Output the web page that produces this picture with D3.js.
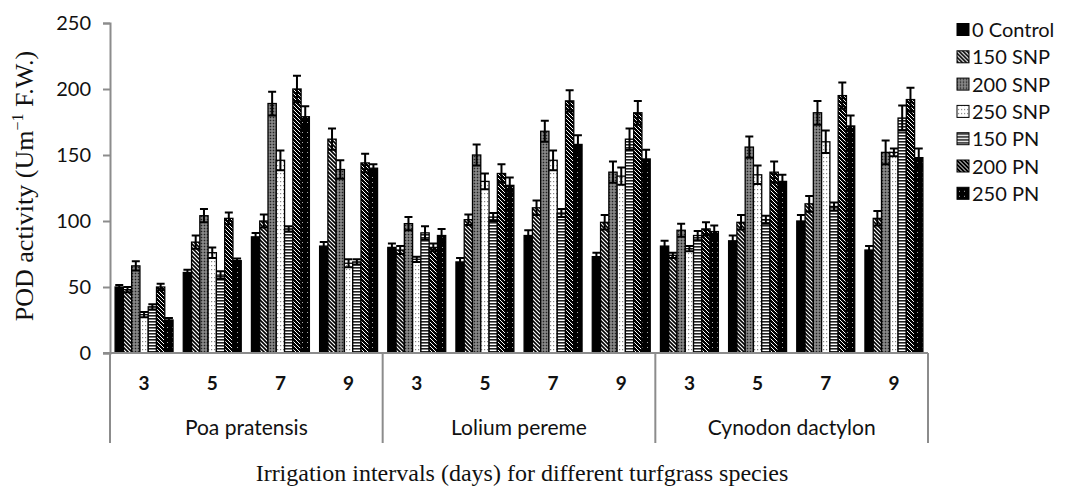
<!DOCTYPE html>
<html><head><meta charset="utf-8">
<script src="https://cdn.jsdelivr.net/npm/d3@7"></script>
<style>
html,body{margin:0;padding:0;background:#fff;}
svg{display:block;}
</style></head>
<body>
<svg id="chart" width="1065" height="487"></svg>
<script>
const species = ["Poa pratensis", "Lolium pereme", "Cynodon dactylon"];
const intervals = ["3", "5", "7", "9"];
const seriesNames = ["0 Control", "150 SNP", "200 SNP", "250 SNP", "150 PN", "200 PN", "250 PN"];
const yTicks = [0, 50, 100, 150, 200, 250];

// values per series, ordered: Poa 3,5,7,9 | Lolium 3,5,7,9 | Cynodon 3,5,7,9
const control = [50, 61, 88, 81,   80, 69, 89, 73,   81, 85, 100, 78];
const snp150  = [48, 84, 100, 162, 78, 101, 110, 99, 74, 99, 113, 102];
const snp200  = [66, 104, 189, 139, 98, 150, 168, 137, 93, 156, 182, 152];
const snp250  = [29, 76, 146, 68,  71, 130, 146, 134, 79, 135, 160, 152];
const pn150   = [35, 59, 94, 69,   91, 103, 106, 162, 89, 101, 111, 178];
const pn200   = [50, 102, 200, 144, 80, 136, 191, 182, 94, 137, 195, 192];
const pn250   = [25, 70, 179, 140,  89, 127, 158, 147, 92, 130, 172, 148];

const errControl = [1.5, 2, 3, 3,   3, 3, 4, 3,   4, 4, 4.5, 3];
const errSnp150  = [2, 5, 5, 8,     3, 4, 5.5, 5.5, 2, 5.5, 6, 5.5];
const errSnp200  = [3.5, 5, 9, 7,   5, 8, 8, 8,   5, 8, 9, 9];
const errSnp250  = [2, 4, 7.5, 3,   2, 6, 7.5, 6.5, 2, 7, 8.5, 3];
const errPn150   = [2, 3, 2, 2,     5, 3, 3, 8,   3.5, 3, 3, 9.5];
const errPn200   = [2.5, 4.5, 10, 7, 3, 7, 8, 9,  5, 8, 10, 9];
const errPn250   = [1.5, 1.5, 8, 3,  5, 6, 7, 7,  4.5, 5, 8, 7];

const values = [control, snp150, snp200, snp250, pn150, pn200, pn250];
const errors = [errControl, errSnp150, errSnp200, errSnp250, errPn150, errPn200, errPn250];
const patternIds = ["pControl", "p150SNP", "p200SNP", "p250SNP", "p150PN", "p200PN", "p250PN"];

const svg = d3.select("#chart");
const defs = svg.append("defs");

function pat(id, w, h, bg, draw) {
  const p = defs.append("pattern").attr("id", id).attr("patternUnits", "userSpaceOnUse")
    .attr("width", w).attr("height", h);
  p.append("rect").attr("width", w).attr("height", h).attr("fill", bg);
  draw(p);
}
const diag = "M-1,-1 L5,5 M-1,3 L1,5 M3,-1 L5,1";
pat("pControl", 4, 4, "#000", p => {});
pat("p150SNP", 4, 4, "#fff", p => {
  p.append("path").attr("d", diag).attr("stroke", "#000").attr("stroke-width", 1.6);
});
pat("p200SNP", 3, 3, "#6e6e6e", p => {
  p.append("rect").attr("x", 0).attr("y", 0).attr("width", 1).attr("height", 1).attr("fill", "#222");
  p.append("rect").attr("x", 1.5).attr("y", 1.5).attr("width", 1).attr("height", 1).attr("fill", "#ccc");
});
pat("p250SNP", 3, 4, "#fff", p => {
  p.append("rect").attr("x", 1).attr("y", 1).attr("width", 1.2).attr("height", 1.2).attr("fill", "#888");
});
pat("p150PN", 3, 3, "#fff", p => {
  p.append("rect").attr("x", 0).attr("y", 0).attr("width", 3).attr("height", 1.6).attr("fill", "#222");
});
pat("p200PN", 4, 4, "#000", p => {
  p.append("path").attr("d", diag).attr("stroke", "#fff").attr("stroke-width", 1.0);
});
pat("p250PN", 5, 5, "#000", p => {
  p.append("rect").attr("x", 2).attr("y", 2).attr("width", 1).attr("height", 1).attr("fill", "#aaa");
});

const plotLeft = 110, plotRight = 928, yZero = 353, yTop = 23;
const y = d3.scaleLinear().domain([0, 250]).range([yZero, yTop]);

const xSpecies = d3.scaleBand().domain(species).range([plotLeft, plotRight]).padding(0);
const xInterval = d3.scaleBand().domain(intervals).range([0, xSpecies.bandwidth()]).paddingInner(0.15).paddingOuter(0.075);
const xSeries = d3.scaleBand().domain(seriesNames).range([0, xInterval.bandwidth()]).padding(0);

const axisColor = "#8c8c8c";
const sansFont = "Lato, 'Open Sans', sans-serif";
const serifFont = "'Liberation Serif', 'DejaVu Serif', serif";

// y axis
const yAxis = d3.axisLeft(y).tickValues(yTicks).tickSize(7).tickPadding(12);
const gy = svg.append("g").attr("transform", `translate(${plotLeft},0)`).call(yAxis);
gy.select(".domain").attr("stroke", axisColor).attr("stroke-width", 2);
gy.selectAll(".tick line").attr("stroke", axisColor).attr("stroke-width", 2);
gy.selectAll(".tick text").attr("font-family", sansFont).attr("font-size", 20).attr("fill", "#111");

// bars
const groups = [];
species.forEach((sp, si) => intervals.forEach((iv, ii) => groups.push({sp, iv, idx: si * 4 + ii})));

const barG = svg.append("g");
groups.forEach(g => {
  const gx = xSpecies(g.sp) + xInterval(g.iv);
  seriesNames.forEach((s, k) => {
    const v = values[k][g.idx];
    const bx = gx + xSeries(s);
    const bw = xSeries.bandwidth();
    barG.append("rect").attr("x", bx).attr("y", y(v)).attr("width", bw).attr("height", y(0) - y(v))
      .attr("fill", `url(#${patternIds[k]})`).attr("stroke", "#000").attr("stroke-width", 1.3);
  });
  seriesNames.forEach((s, k) => {
    const v = values[k][g.idx];
    const e = errors[k][g.idx];
    const cx = gx + xSeries(s) + xSeries.bandwidth() / 2;
    const hw = 4;
    barG.append("path")
      .attr("d", `M${cx},${y(v - e)}L${cx},${y(v + e)}M${cx - hw},${y(v + e)}L${cx + hw},${y(v + e)}M${cx - hw},${y(v - e)}L${cx + hw},${y(v - e)}`)
      .attr("stroke", "#000").attr("stroke-width", 2).attr("fill", "none");
  });
});

// x axis baseline and separators
svg.append("line").attr("x1", plotLeft - 7).attr("x2", plotRight).attr("y1", yZero).attr("y2", yZero)
  .attr("stroke", axisColor).attr("stroke-width", 2);
const sepXs = species.map(s => xSpecies(s)).concat([plotRight]);
svg.selectAll(".sep").data(sepXs).enter().append("line")
  .attr("x1", d => d).attr("x2", d => d).attr("y1", yZero).attr("y2", 443)
  .attr("stroke", axisColor).attr("stroke-width", 2);

// interval labels
groups.forEach(g => {
  svg.append("text").attr("x", xSpecies(g.sp) + xInterval(g.iv) + xInterval.bandwidth() / 2).attr("y", 390)
    .attr("text-anchor", "middle").attr("font-family", sansFont).attr("font-size", 19).attr("font-weight", 700)
    .attr("fill", "#111").text(g.iv);
});
// species labels
species.forEach(sp => {
  svg.append("text").attr("x", xSpecies(sp) + xSpecies.bandwidth() / 2).attr("y", 435)
    .attr("text-anchor", "middle").attr("font-family", sansFont).attr("font-size", 21)
    .attr("fill", "#111").text(sp);
});

// axis titles
svg.append("text").attr("x", 522).attr("y", 481).attr("text-anchor", "middle")
  .attr("font-family", serifFont).attr("font-size", 24).attr("fill", "#111")
  .text("Irrigation intervals (days) for different turfgrass species");

const yt = svg.append("text").attr("transform", "translate(33,186) rotate(-90)").attr("text-anchor", "middle")
  .attr("font-family", serifFont).attr("font-size", 26).attr("fill", "#111");
yt.append("tspan").text("POD activity (Um");
yt.append("tspan").attr("font-size", 16).attr("dy", -10).text("−1");
yt.append("tspan").attr("dy", 10).text(" F.W.)");

// legend
const legend = svg.append("g").attr("transform", "translate(957,30)");
seriesNames.forEach((s, k) => {
  const row = legend.append("g").attr("transform", `translate(0,${k * 27.3})`);
  row.append("rect").attr("x", 0).attr("y", -6.5).attr("width", 12).attr("height", 12)
    .attr("fill", `url(#${patternIds[k]})`).attr("stroke", "#000").attr("stroke-width", 1);
  row.append("text").attr("x", 15).attr("y", 7).attr("font-family", sansFont).attr("font-size", 20)
    .attr("fill", "#111").text(s);
});
</script>
</body></html>
